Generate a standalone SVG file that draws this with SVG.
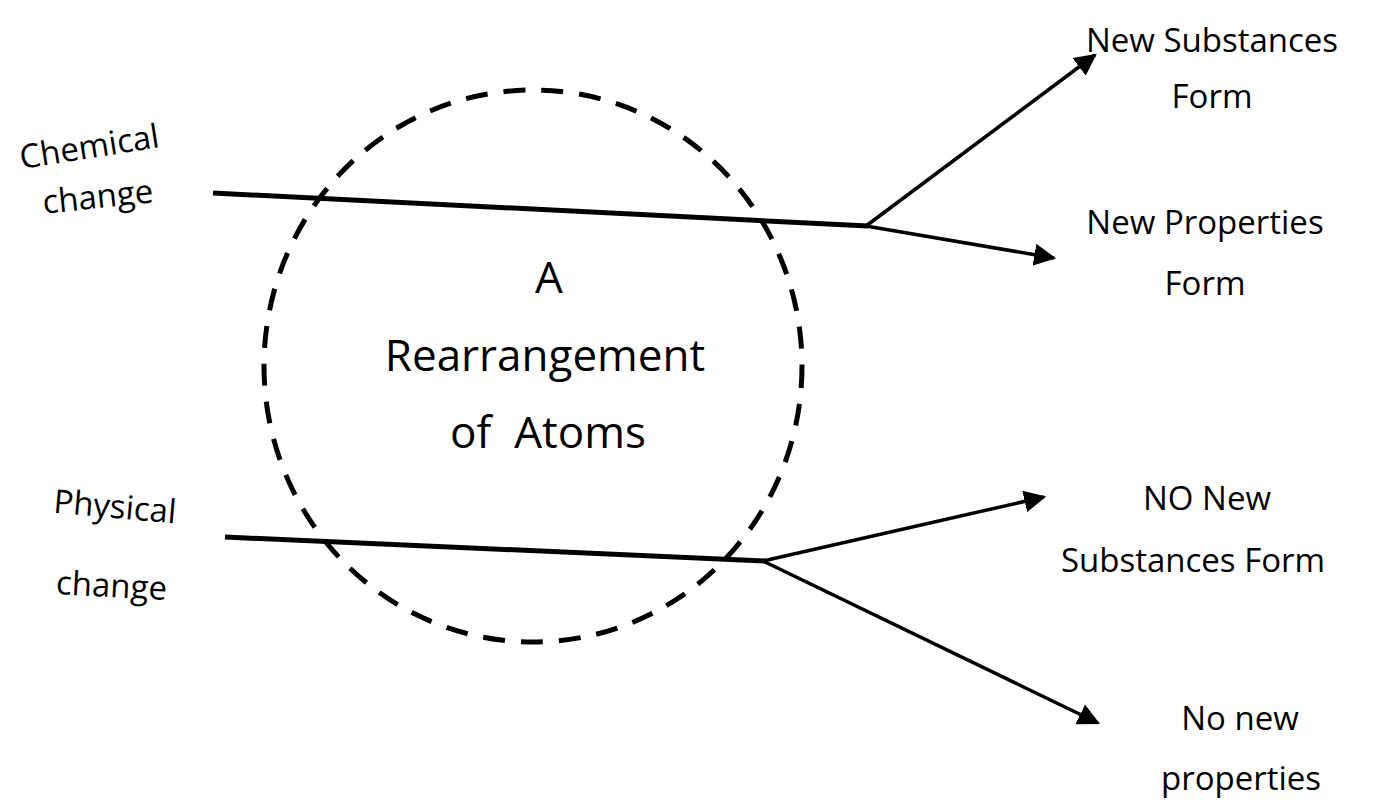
<svg xmlns="http://www.w3.org/2000/svg" width="1374" height="800" viewBox="0 0 1374 800">
<style>
text{font-family:"Open Sans","Noto Sans","Liberation Sans",sans-serif;fill:#000}
.lbl{font-size:33px;text-anchor:middle}
.big{font-size:44px;text-anchor:middle}
.main{stroke:#000;stroke-width:5;fill:none}
.br{stroke:#000;stroke-width:3.5;fill:none}
</style>
<defs>
<marker id="arrow" viewBox="0 0 10 10" refX="9" refY="5" markerWidth="22" markerHeight="22" markerUnits="userSpaceOnUse" orient="auto">
<path d="M0,0 L10,5 L0,10 z" fill="#000"/>
</marker>
</defs>
<g id="circle">
<ellipse cx="533" cy="366" rx="269" ry="276" fill="none" stroke="#000" stroke-width="5" stroke-dasharray="22 16"/>
<text class="big" x="549" y="293">A</text>
<text class="big" x="545" y="371">Rearrangement</text>
<text class="big" x="548" y="448" xml:space="preserve">of  Atoms</text>
</g>
<g id="connectors">
<line class="main" x1="213" y1="193" x2="868" y2="226"/>
<line class="br" x1="866" y1="226" x2="1095" y2="55" marker-end="url(#arrow)"/>
<line class="br" x1="866" y1="226" x2="1054" y2="258" marker-end="url(#arrow)"/>
<line class="main" x1="225" y1="537" x2="765" y2="561"/>
<line class="br" x1="763" y1="561" x2="1044" y2="497" marker-end="url(#arrow)"/>
<line class="br" x1="763" y1="561" x2="1098" y2="723" marker-end="url(#arrow)"/>
</g>
<g id="chemical">
<text class="lbl" transform="translate(91,158) rotate(-9)">Chemical</text>
<text class="lbl" transform="translate(99,208) rotate(-6)">change</text>
</g>
<g id="physical">
<text class="lbl" transform="translate(114,518) rotate(5)">Physical</text>
<text class="lbl" transform="translate(111,597) rotate(3)">change</text>
</g>
<g id="new-substances">
<text class="lbl" x="1212" y="52">New Substances</text>
<text class="lbl" x="1212" y="108">Form</text>
</g>
<g id="new-properties">
<text class="lbl" x="1205" y="234">New Properties</text>
<text class="lbl" x="1205" y="295">Form</text>
</g>
<g id="no-new-substances">
<text class="lbl" x="1207" y="510">NO New</text>
<text class="lbl" x="1193" y="572">Substances Form</text>
</g>
<g id="no-new-properties">
<text class="lbl" x="1240" y="730">No new</text>
<text class="lbl" x="1241" y="790">properties</text>
</g>
</svg>
